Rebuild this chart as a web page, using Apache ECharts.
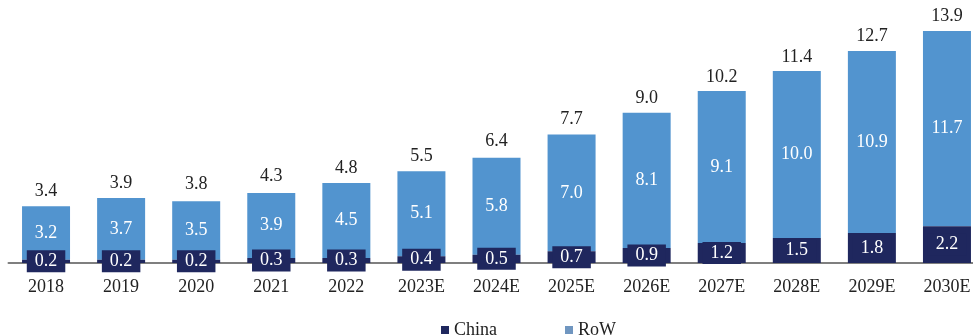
<!DOCTYPE html>
<html>
<head>
<meta charset="utf-8">
<script src="https://cdn.jsdelivr.net/npm/echarts@6/dist/echarts.min.js"></script>
<style>html,body{margin:0;padding:0;background:#fff}#c{width:973px;height:335px}</style>
</head>
<body>
<div id="c"></div>
<script>
const categories = ['2018','2019','2020','2021','2022','2023E','2024E','2025E','2026E','2027E','2028E','2029E','2030E'];
const china = [0.2,0.2,0.2,0.3,0.3,0.4,0.5,0.7,0.9,1.2,1.5,1.8,2.2];
const row = [3.2,3.7,3.5,3.9,4.5,5.1,5.8,7.0,8.1,9.1,10.0,10.9,11.7];
const totals = [3.4,3.9,3.8,4.3,4.8,5.5,6.4,7.7,9.0,10.2,11.4,12.7,13.9];

const FONT = '"Liberation Serif", "DejaVu Serif", serif';
const NAVY = '#1f275e';
const BLUE = '#5294cf';

const chart = echarts.init(document.getElementById('c'));
chart.setOption({
  animation: false,
  legend: {
    data: [
      { name: 'China', itemStyle: { color: NAVY } },
      { name: 'RoW', itemStyle: { color: '#7096c0' } }
    ],
    top: 316,
    left: 436,
    itemWidth: 8,
    itemHeight: 8,
    itemGap: 68,
    icon: 'rect',
    textStyle: { fontFamily: FONT, fontSize: 18, color: '#222' }
  },
  grid: { left: 8.5, width: 976, top: 31, height: 232, containLabel: false, outerBoundsMode: 'none' },
  xAxis: {
    type: 'category',
    data: categories,
    axisTick: { show: false },
    axisLine: { show: true, lineStyle: { color: '#7f7f7f', width: 2 } },
    axisLabel: { margin: 15, fontFamily: FONT, fontSize: 18, color: '#222' },
    z: 1
  },
  yAxis: { type: 'value', min: 0, max: 13.9, show: false, splitLine: { show: false } },
  series: [
    {
      name: 'China', type: 'bar', stack: 'a', data: china, barWidth: 48,
      itemStyle: { color: NAVY }, z: 3,
      label: {
        show: true, position: 'inside', color: '#fff', fontFamily: FONT, fontSize: 18,
        backgroundColor: NAVY, padding: [2, 8],
        formatter: p => p.value.toFixed(1)
      }
    },
    {
      name: 'RoW', type: 'bar', stack: 'a', data: row, barWidth: 48,
      itemStyle: { color: BLUE }, z: 2,
      label: {
        show: true, position: 'inside', color: '#fff', fontFamily: FONT, fontSize: 18,
        formatter: p => p.value.toFixed(1)
      }
    },
    {
      name: 'Total', type: 'bar', data: totals, barWidth: 48, barGap: '-100%',
      itemStyle: { color: 'rgba(0,0,0,0)' }, z: 1, silent: true,
      label: {
        show: true, position: 'top', distance: 6, color: '#222', fontFamily: FONT, fontSize: 18,
        formatter: p => p.value.toFixed(1)
      }
    }
  ]
});
</script>
</body>
</html>
